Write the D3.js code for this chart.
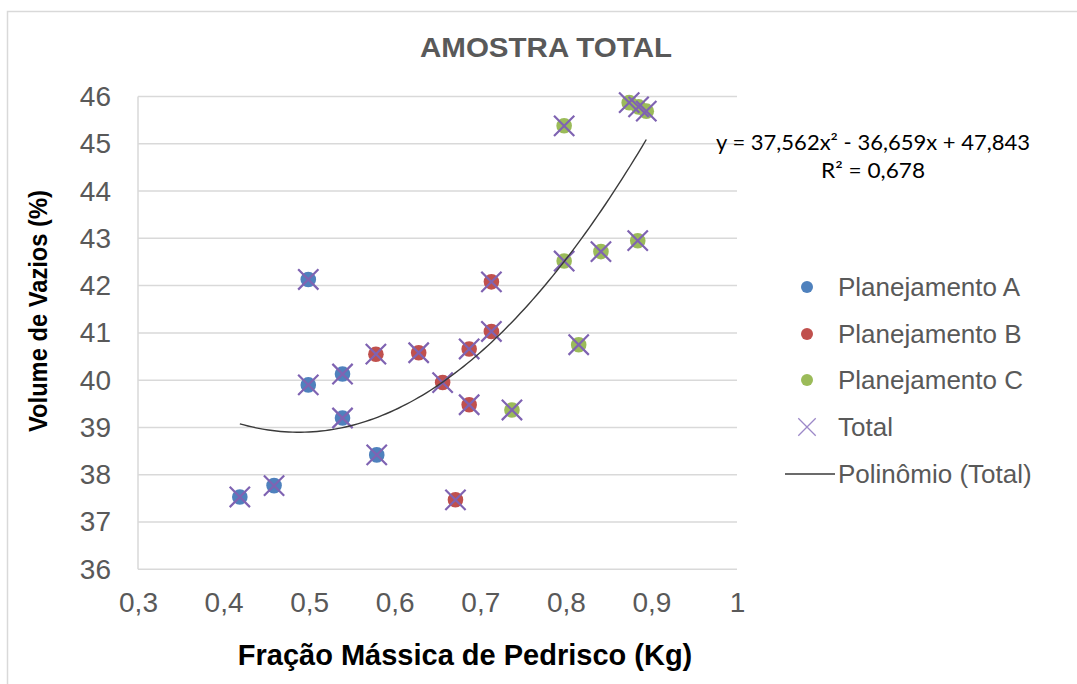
<!DOCTYPE html>
<html>
<head>
<meta charset="utf-8">
<script src="https://cdn.jsdelivr.net/npm/d3@7"></script>
<style>
  html, body { margin: 0; padding: 0; background: #fff; }
  svg { display: block; font-family: "Liberation Sans", Arial, sans-serif; }
</style>
</head>
<body>
<svg id="chart" width="1077" height="684"></svg>
<script>
// Planejamento A
const fracA = [0.419, 0.459, 0.499, 0.539, 0.539, 0.579, 0.499];
const volA  = [37.53, 37.77, 39.90, 40.13, 39.20, 38.42, 42.13];
// Planejamento B
const fracB = [0.578, 0.628, 0.656, 0.687, 0.687, 0.713, 0.713, 0.671];
const volB  = [40.55, 40.58, 39.95, 40.66, 39.48, 41.03, 42.08, 37.47];
// Planejamento C
const fracC = [0.737, 0.815, 0.798, 0.841, 0.884, 0.798, 0.874, 0.885, 0.894];
const volC  = [39.37, 40.75, 42.52, 42.72, 42.95, 45.38, 45.87, 45.78, 45.69];

// second-order trendline of the total sample: a*x^2 + b*x + c
const polyCoef = [37.562, -36.659, 47.843];
const polyLabel = ["y = 37,562x² - 36,659x + 47,843", "R² = 0,678"];

const xTicks = [0.3, 0.4, 0.5, 0.6, 0.7, 0.8, 0.9, 1.0];
const yTicks = [36, 37, 38, 39, 40, 41, 42, 43, 44, 45, 46];
const legendNames = ["Planejamento A", "Planejamento B", "Planejamento C", "Total", "Polinômio (Total)"];

const colors = { A: "#4F81BD", B: "#C0504D", C: "#9BBB59", total: "#7F63B2" };
const fmt = v => d3.format("")(v).replace(".", ",");

const svg = d3.select("#chart");
svg.append("rect").attr("width", 1077).attr("height", 684).attr("fill", "#fff");

// chart frame (top and left edges visible)
svg.append("path")
  .attr("d", "M7.5,690 V11.5 H1080")
  .attr("fill", "none").attr("stroke", "#D9D9D9").attr("stroke-width", 1.5);

const x = d3.scaleLinear().domain([0.3, 1.0]).range([138, 737]);
const y = d3.scaleLinear().domain([36, 46]).range([569.3, 96.5]);

// horizontal gridlines
const grid = svg.append("g");
grid.selectAll("line").data(yTicks).join("line")
  .attr("x1", x(0.3)).attr("x2", x(1.0))
  .attr("y1", d => y(d)).attr("y2", d => y(d))
  .attr("stroke", "#D9D9D9").attr("stroke-width", 1.5);

// vertical axis line
svg.append("line")
  .attr("x1", x(0.3)).attr("x2", x(0.3))
  .attr("y1", y(46)).attr("y2", y(36))
  .attr("stroke", "#D9D9D9").attr("stroke-width", 1.5);

// y tick labels
const yAxis = d3.axisLeft(y).tickValues(yTicks).tickSize(0).tickPadding(27).tickFormat(fmt);
const gy = svg.append("g").attr("transform", `translate(${x(0.3)},0)`).call(yAxis);
gy.select(".domain").remove();
gy.selectAll("text").attr("font-size", 28).attr("fill", "#595959")
  .attr("font-family", "Liberation Sans, Arial, sans-serif");

// x tick labels
const xAxis = d3.axisBottom(x).tickValues(xTicks).tickSize(0).tickPadding(23).tickFormat(fmt);
const gx = svg.append("g").attr("transform", `translate(0,${y(36)})`).call(xAxis);
gx.select(".domain").remove();
gx.selectAll("text").attr("font-size", 28).attr("fill", "#595959")
  .attr("font-family", "Liberation Sans, Arial, sans-serif");

// series points
const series = [
  { key: "A", xs: fracA, ys: volA },
  { key: "B", xs: fracB, ys: volB },
  { key: "C", xs: fracC, ys: volC }
];
series.forEach(s => {
  svg.append("g").selectAll("circle")
    .data(d3.zip(s.xs, s.ys)).join("circle")
    .attr("cx", d => x(d[0])).attr("cy", d => y(d[1]))
    .attr("r", 7.8).attr("fill", colors[s.key]);
});

// total series drawn as crosses over every point
const total = d3.zip(fracA.concat(fracB, fracC), volA.concat(volB, volC));
const cross = d3.symbol().type(d3.symbolX).size(270);
svg.append("g").selectAll("path")
  .data(total).join("path")
  .attr("d", cross)
  .attr("transform", d => `translate(${x(d[0])},${y(d[1])})`)
  .attr("fill", "none").attr("stroke", colors.total).attr("stroke-width", 2.2);

// polynomial trendline across the range of the total sample
const poly = v => polyCoef[0] * v * v + polyCoef[1] * v + polyCoef[2];
const xMin = d3.min(total, d => d[0]), xMax = d3.max(total, d => d[0]);
const samples = d3.range(0, 101).map(i => xMin + (xMax - xMin) * i / 100);
svg.append("path")
  .datum(samples)
  .attr("d", d3.line().x(d => x(d)).y(d => y(poly(d))))
  .attr("fill", "none").attr("stroke", "#3A3A3A").attr("stroke-width", 1.4);

// trendline equation
const eq = svg.append("g").attr("font-family", "Lato, 'Open Sans', sans-serif")
  .attr("font-size", 21).attr("fill", "#000").attr("text-anchor", "middle");
eq.append("text").attr("x", 873).attr("y", 150).text(polyLabel[0])
  .attr("textLength", 314).attr("lengthAdjust", "spacingAndGlyphs");
eq.append("text").attr("x", 873).attr("y", 178).text(polyLabel[1])
  .attr("textLength", 104).attr("lengthAdjust", "spacingAndGlyphs");

// title
svg.append("text").attr("x", 546).attr("y", 57)
  .attr("text-anchor", "middle").attr("font-size", 27).attr("font-weight", "bold")
  .attr("fill", "#595959").attr("textLength", 252).attr("lengthAdjust", "spacingAndGlyphs")
  .text("AMOSTRA TOTAL");

// axis titles
svg.append("text").attr("x", 465).attr("y", 665)
  .attr("text-anchor", "middle").attr("font-size", 29).attr("font-weight", "bold")
  .attr("fill", "#000").text("Fração Mássica de Pedrisco (Kg)");
svg.append("text")
  .attr("transform", "translate(47,311) rotate(-90)")
  .attr("text-anchor", "middle").attr("font-size", 25).attr("font-weight", "bold")
  .attr("fill", "#000").attr("textLength", 242).attr("lengthAdjust", "spacingAndGlyphs")
  .text("Volume de Vazios (%)");

// legend
const legY = [287, 334, 380, 427, 474];
const leg = svg.append("g");
[colors.A, colors.B, colors.C].forEach((c, i) => {
  leg.append("circle").attr("cx", 807).attr("cy", legY[i]).attr("r", 6).attr("fill", c);
});
leg.append("path").attr("d", d3.symbol().type(d3.symbolX).size(200))
  .attr("transform", `translate(807,${legY[3]})`)
  .attr("fill", "none").attr("stroke", "#9C88C8").attr("stroke-width", 1.3);
leg.append("line").attr("x1", 785).attr("x2", 835).attr("y1", legY[4]).attr("y2", legY[4])
  .attr("stroke", "#3A3A3A").attr("stroke-width", 1.4);
leg.selectAll("text").data(legendNames).join("text")
  .attr("x", 838).attr("y", (d, i) => legY[i]).attr("dy", "0.35em")
  .attr("font-size", 26).attr("fill", "#595959").text(d => d);
</script>
</body>
</html>
